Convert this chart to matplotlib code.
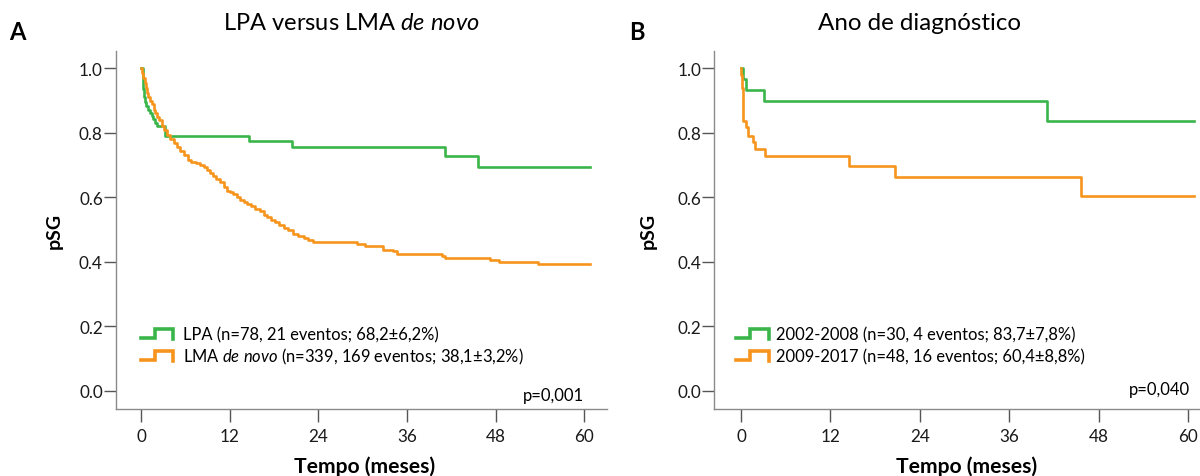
"""
Curvas de sobrevivência global (Kaplan-Meier): LPA vs LMA de novo e ano de diagnóstico
"""

import matplotlib
matplotlib.use("Agg")
import matplotlib.pyplot as plt

plt.rcParams['font.family'] = ['Lato', 'DejaVu Sans']
plt.rcParams['mathtext.fontset'] = 'custom'
plt.rcParams['mathtext.rm'] = 'Lato'
plt.rcParams['mathtext.it'] = 'Lato:italic'

# Painel A - LPA
lpa_t = [0, 0.25, 0.32, 0.45, 0.6, 0.68, 1.0, 1.22, 1.45, 1.67, 1.9, 2.12, 3.25,
         14.6, 20.5, 41.1, 45.6, 60.85]
lpa_s = [1.0, 0.96, 0.936, 0.91, 0.897, 0.884, 0.871, 0.863, 0.853, 0.843, 0.832,
         0.820, 0.791, 0.775, 0.755, 0.727, 0.695, 0.695]

# Painel A - LMA de novo
lma_t = [0, 0.15, 0.32, 0.5, 0.68, 0.85, 1.0, 1.2, 1.45, 1.7, 1.95, 2.12, 2.4, 2.8,
         3.1, 3.47, 3.9, 4.4, 4.9, 5.3, 5.8, 6.4, 6.8, 7.5, 8.0, 8.5, 8.9, 9.4, 9.8,
         10.2, 10.7, 11.2, 11.6, 12.0, 12.5, 13.0, 13.4, 13.9, 14.4, 14.9, 15.4,
         16.1, 16.6, 17.0, 17.6, 18.1, 18.7, 19.3, 19.9, 20.6, 21.3, 22.0, 22.6,
         23.3, 29.2, 30.3, 32.8, 34.1, 34.6, 40.7, 41.1, 47.3, 48.4, 53.8, 60.85]
lma_s = [1.0, 0.985, 0.97, 0.955, 0.94, 0.925, 0.912, 0.90, 0.888, 0.872, 0.86,
         0.85, 0.84, 0.822, 0.808, 0.792, 0.78, 0.768, 0.757, 0.745, 0.732, 0.716,
         0.709, 0.705, 0.699, 0.693, 0.686, 0.676, 0.667, 0.657, 0.646, 0.633,
         0.621, 0.615, 0.609, 0.600, 0.593, 0.585, 0.578, 0.572, 0.565, 0.556,
         0.546, 0.538, 0.530, 0.522, 0.514, 0.506, 0.497, 0.487, 0.480, 0.475,
         0.468, 0.461, 0.455, 0.448, 0.437, 0.432, 0.424, 0.419, 0.412, 0.405,
         0.398, 0.392, 0.392]

# Painel B - 2002-2008
p1_t = [0, 0.31, 0.67, 3.13, 41.0, 60.8]
p1_s = [1.0, 0.967, 0.933, 0.898, 0.837, 0.837]

# Painel B - 2009-2017
p2_t = [0, 0.05, 0.09, 0.15, 0.22, 0.31, 0.67, 0.98, 1.57, 1.88, 3.22, 14.5, 20.6,
        45.6, 60.8]
p2_s = [1.0, 0.979, 0.958, 0.938, 0.917, 0.838, 0.817, 0.791, 0.770, 0.750, 0.729,
        0.698, 0.664, 0.604, 0.604]

titles = ["LPA versus LMA $\\it{de\\ novo}$", "Ano de diagnóstico"]
legend_a = ["LPA (n=78, 21 eventos; 68,2±6,2%)",
            "LMA $\\it{de\\ novo}$ (n=339, 169 eventos; 38,1±3,2%)"]
legend_b = ["2002-2008 (n=30, 4 eventos; 83,7±7,8%)",
            "2009-2017 (n=48, 16 eventos; 60,4±8,8%)"]
pvals = ["p=0,001", "p=0,040"]

GREEN = '#3ab54a'
ORANGE = '#f7941d'

fig = plt.figure(figsize=(12, 4.77), dpi=100)
ax_a = fig.add_axes([0.0967, 0.1405, 0.4092, 0.7512])
ax_b = fig.add_axes([0.5953, 0.1405, 0.4140, 0.7512])


def style_axis(ax, xmin):
    ax.set_xlim(xmin, 63.1)
    ax.set_ylim(-0.057, 1.055)
    ax.set_xticks(range(0, 61, 12))
    ax.set_yticks([0, 0.2, 0.4, 0.6, 0.8, 1.0])
    ax.set_yticklabels(['0.0', '0.2', '0.4', '0.6', '0.8', '1.0'])
    for s in ['top', 'right']:
        ax.spines[s].set_visible(False)
    for s in ['left', 'bottom']:
        ax.spines[s].set_color('#8a8a8a')
        ax.spines[s].set_linewidth(1.0)
    ax.tick_params(axis='both', direction='out', length=9, width=1,
                   color='#555555', labelsize=12.3, labelcolor='#1a1a1a')
    ax.tick_params(axis='y', pad=0.5)
    ax.tick_params(axis='x', pad=5)
    ax.text(0.507, -0.158, "Tempo (meses)", transform=ax.transAxes,
            ha='center', va='center', fontsize=15.2, fontweight='bold')
    ax.set_ylabel("pSG", fontsize=14, fontweight='bold')


def step_icon(ax, x0, y0, color):
    # pequeno degrau usado como marcador da legenda
    xs = [x0, x0 + 0.029, x0 + 0.029, x0 + 0.066, x0 + 0.066]
    ys = [y0, y0, y0 + 0.025, y0 + 0.025, y0 - 0.002]
    ax.plot(xs, ys, color=color, lw=2.6, transform=ax.transAxes,
            solid_joinstyle='miter', clip_on=False)


# Painel A
ax_a.step(lpa_t, lpa_s, where='post', color=GREEN, lw=1.9)
ax_a.step(lma_t, lma_s, where='post', color=ORANGE, lw=1.9)
style_axis(ax_a, -3.38)
ax_a.yaxis.set_label_coords(-0.108, 0.5)
step_icon(ax_a, 0.051, 0.198, GREEN)
step_icon(ax_a, 0.051, 0.137, ORANGE)
ax_a.text(0.136, 0.209, legend_a[0], transform=ax_a.transAxes, va='center', fontsize=11.9)
ax_a.text(0.136, 0.147, legend_a[1], transform=ax_a.transAxes, va='center', fontsize=11.9)
ax_a.text(0.953, 0.039, pvals[0], transform=ax_a.transAxes, ha='right', va='center',
          fontsize=12)

# Painel B
ax_b.step(p1_t, p1_s, where='post', color=GREEN, lw=1.9)
ax_b.step(p2_t, p2_s, where='post', color=ORANGE, lw=1.9)
style_axis(ax_b, -3.58)
ax_b.yaxis.set_label_coords(-0.116, 0.5)
step_icon(ax_b, 0.043, 0.198, GREEN)
step_icon(ax_b, 0.043, 0.137, ORANGE)
ax_b.text(0.125, 0.209, legend_b[0], transform=ax_b.transAxes, va='center', fontsize=11.9)
ax_b.text(0.125, 0.147, legend_b[1], transform=ax_b.transAxes, va='center', fontsize=11.9)
ax_b.text(0.958, 0.056, pvals[1], transform=ax_b.transAxes, ha='right', va='center',
          fontsize=12)

# Títulos e letras dos painéis
fig.text(0.293, 0.950, titles[0], ha='center', va='center', fontsize=17)
fig.text(0.766, 0.950, titles[1], ha='center', va='center', fontsize=17.4)
fig.text(0.008, 0.932, "A", ha='left', va='center', fontsize=17, fontweight='bold')
fig.text(0.524, 0.932, "B", ha='left', va='center', fontsize=17, fontweight='bold')

fig.savefig("out.png", dpi=100)
